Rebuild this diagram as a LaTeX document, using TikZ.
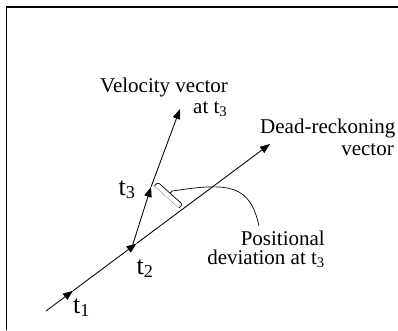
\documentclass[tikz,border=0pt]{standalone}
\usepackage{fontspec}
\setmainfont{Liberation Serif}
\usetikzlibrary{arrows.meta,calc}
\begin{document}
\begin{tikzpicture}[x=1pt,y=1pt,
  lbl/.style={inner sep=0pt, font=\fontsize{21}{24}\selectfont},
  tlbl/.style={inner sep=0pt, font=\fontsize{26}{30}\selectfont},
  vec/.style={line width=0.85pt},
  tipped/.style={vec,-{Triangle[length=10pt,width=7.5pt]}},
  thin line/.style={line width=0.7pt}
]
\useasboundingbox (0,0) rectangle (398,330);
% frame
\draw[line width=1.1pt] (6.5,0) -- (6.5,323) -- (398,323);
% key points
\coordinate (S) at (46,19);
\coordinate (T1) at (73,39.2);
\coordinate (T2) at (136.5,86.5);
\coordinate (E) at (270,186);
\coordinate (V0) at (132,83);
\coordinate (T3) at (151,143);
\coordinate (V1) at (180,221);
% dead-reckoning vector
\draw[tipped] (S) -- (T1);
\draw[tipped] (T1) -- (T2);
\draw[tipped] (T2) -- (E);
% velocity vector
\draw[tipped] (V0) -- (T3);
\draw[tipped] (T3) -- (V1);
% bracket for positional deviation
\begin{scope}[shift={(154.5,144)}, rotate=-41.9]
  \draw[thin line, rounded corners=2pt] (0,0) -- (0,5) -- (33,5) -- (33,0);
  \draw[line width=0.5pt, densely dotted] (0,0) -- (33,0);
  \draw[thin line] (16.5,5) -- (16.5,8) coordinate (tick);
\end{scope}
\coordinate (cend) at (259,104);
\draw[thin line] (tick) .. controls (230,148) and (250,145) .. (cend);
% labels
\node[lbl, anchor=base west] (vel) at (100,238) {Velocity vector};
\node[lbl, anchor=base west] (velat) at (193,217) {at t\textsubscript{3}};
\node[lbl, anchor=base west] (dr) at (260,197) {Dead-reckoning};
\node[lbl, anchor=base east] (drv) at (394,175) {vector};
\node[inner sep=0pt, font=\fontsize{21}{19}\selectfont, align=right, anchor=base east] (pos) at (325,66) {Positional\\deviation at t\textsubscript{3}};
\node[tlbl, anchor=base west] (l1) at (73,17) {t\textsubscript{1}};
\node[tlbl, anchor=base west] (l2) at (136.5,56) {t\textsubscript{2}};
\node[tlbl, anchor=base west] (l3) at (118.5,135) {t\textsubscript{3}};
\end{tikzpicture}
\end{document}
